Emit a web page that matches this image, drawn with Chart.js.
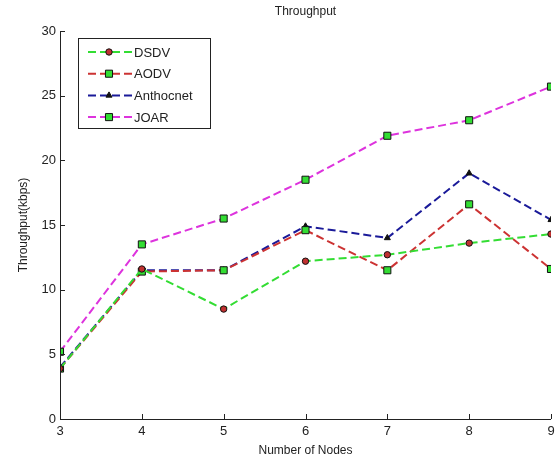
<!DOCTYPE html>
<html>
<head>
<meta charset="utf-8">
<script src="https://cdn.jsdelivr.net/npm/chart.js@4"></script>
<style>
  html, body { margin: 0; padding: 0; background: #fff; }
  #wrap { width: 557px; height: 458px; }
</style>
</head>
<body>
<div id="wrap"><canvas id="c"></canvas></div>
<script>
const nodes = [3, 4, 5, 6, 7, 8, 9];
const dsdv = [3.9, 11.6, 8.5, 12.2, 12.7, 13.6, 14.3];
const aodv = [3.9, 11.4, 11.5, 14.6, 11.5, 16.6, 11.6];
const anthocnet = [4.0, 11.5, 11.5, 14.9, 14.0, 19.0, 15.4];
const joar = [5.2, 13.5, 15.5, 18.5, 21.9, 23.1, 25.7];
const yTicks = [0, 5, 10, 15, 20, 25, 30];

const font = "'Liberation Sans', Arial, sans-serif";

function series(label, values, lineColor, style, fill, radius) {
    return {
        label: label,
        data: values.map((v, i) => ({ x: nodes[i], y: v })),
        borderColor: lineColor,
        borderWidth: 2,
        borderDash: [8, 4],
        pointStyle: style,
        pointRadius: radius,
        pointBackgroundColor: fill,
        pointBorderColor: '#111',
        pointBorderWidth: 1,
        fill: false,
        tension: 0
    };
}

// MATLAB style axes: inward ticks, title over the plot, legend box inside it
const axesPlugin = {
    id: 'axesPlugin',
    afterDatasetsDraw(chart) {
        const ctx = chart.ctx;
        const xs = chart.scales.x, ys = chart.scales.y;
        const area = chart.chartArea;
        ctx.save();
        ctx.strokeStyle = '#222';
        ctx.lineWidth = 1;
        ctx.beginPath();
        ctx.moveTo(area.left + 0.5, area.top);
        ctx.lineTo(area.left + 0.5, area.bottom + 0.5);
        ctx.lineTo(area.right, area.bottom + 0.5);
        nodes.forEach(n => {
            const px = Math.round(xs.getPixelForValue(n)) + 0.5;
            ctx.moveTo(px, area.bottom);
            ctx.lineTo(px, area.bottom - 5);
        });
        yTicks.forEach(t => {
            const py = Math.round(ys.getPixelForValue(t)) + 0.5;
            ctx.moveTo(area.left, py);
            ctx.lineTo(area.left + 5, py);
        });
        ctx.stroke();

        ctx.fillStyle = '#222';
        ctx.font = '12px ' + font;
        ctx.textAlign = 'center';
        ctx.textBaseline = 'middle';
        ctx.fillText('Throughput', (area.left + area.right) / 2, 12);

        // legend
        const bx = 78, by = 38, bw = 132, bh = 90;
        ctx.fillStyle = '#fff';
        ctx.fillRect(bx, by, bw, bh);
        ctx.strokeStyle = '#222';
        ctx.strokeRect(bx + 0.5, by + 0.5, bw, bh);
        ctx.font = '13px ' + font;
        ctx.textAlign = 'left';
        chart.data.datasets.forEach((ds, i) => {
            const ly = 52 + i * 21.7;
            ctx.strokeStyle = ds.borderColor;
            ctx.lineWidth = 2;
            ctx.setLineDash([8, 4]);
            ctx.beginPath();
            ctx.moveTo(88, ly);
            ctx.lineTo(132, ly);
            ctx.stroke();
            ctx.setLineDash([]);
            ctx.fillStyle = ds.pointBackgroundColor;
            ctx.strokeStyle = '#111';
            ctx.lineWidth = 1;
            Chart.helpers.drawPoint(ctx, {
                pointStyle: ds.pointStyle,
                radius: ds.pointRadius,
                borderWidth: 1
            }, 109, ly);
            ctx.fillStyle = '#222';
            ctx.fillText(ds.label, 134, ly + 1);
        });
        ctx.restore();
    }
};

new Chart(document.getElementById('c'), {
    type: 'line',
    data: {
        datasets: [
            series('DSDV', dsdv, '#33dd33', 'circle', '#c03030', 3.2),
            series('AODV', aodv, '#cc3333', 'rect', '#33dd33', 5),
            series('Anthocnet', anthocnet, '#1a1a99', 'triangle', '#111', 3.5),
            series('JOAR', joar, '#dd33dd', 'rect', '#33dd33', 5)
        ]
    },
    options: {
        responsive: true,
        maintainAspectRatio: false,
        animation: false,
        layout: { padding: { left: 0, right: 5, top: 31, bottom: 0 } },
        plugins: {
            legend: { display: false },
            tooltip: { enabled: false },
            title: { display: false }
        },
        scales: {
            x: {
                type: 'linear',
                min: 3,
                max: 9,
                afterFit: s => { s.height = 39; s.paddingRight = 0; s.paddingLeft = 0; },
                afterBuildTicks: s => { s.ticks = nodes.map(v => ({ value: v })); },
                grid: { display: false, drawTicks: false },
                border: { display: false },
                ticks: { color: '#222', padding: 5, font: { family: font, size: 13 } },
                title: {
                    display: true,
                    text: 'Number of Nodes',
                    color: '#222',
                    font: { family: font, size: 12 },
                    padding: { top: 0, bottom: 0 }
                }
            },
            y: {
                min: 0,
                max: 30,
                afterFit: s => { s.width = 60; s.paddingTop = 0; s.paddingBottom = 0; },
                afterBuildTicks: s => { s.ticks = yTicks.map(v => ({ value: v })); },
                grid: { display: false, drawTicks: false },
                border: { display: false },
                ticks: { color: '#222', padding: 4, font: { family: font, size: 13 } },
                title: {
                    display: true,
                    text: 'Throughput(kbps)',
                    color: '#222',
                    font: { family: font, size: 12 },
                    padding: { top: 16, bottom: 6 }
                }
            }
        }
    },
    plugins: [axesPlugin]
});
</script>
</body>
</html>
